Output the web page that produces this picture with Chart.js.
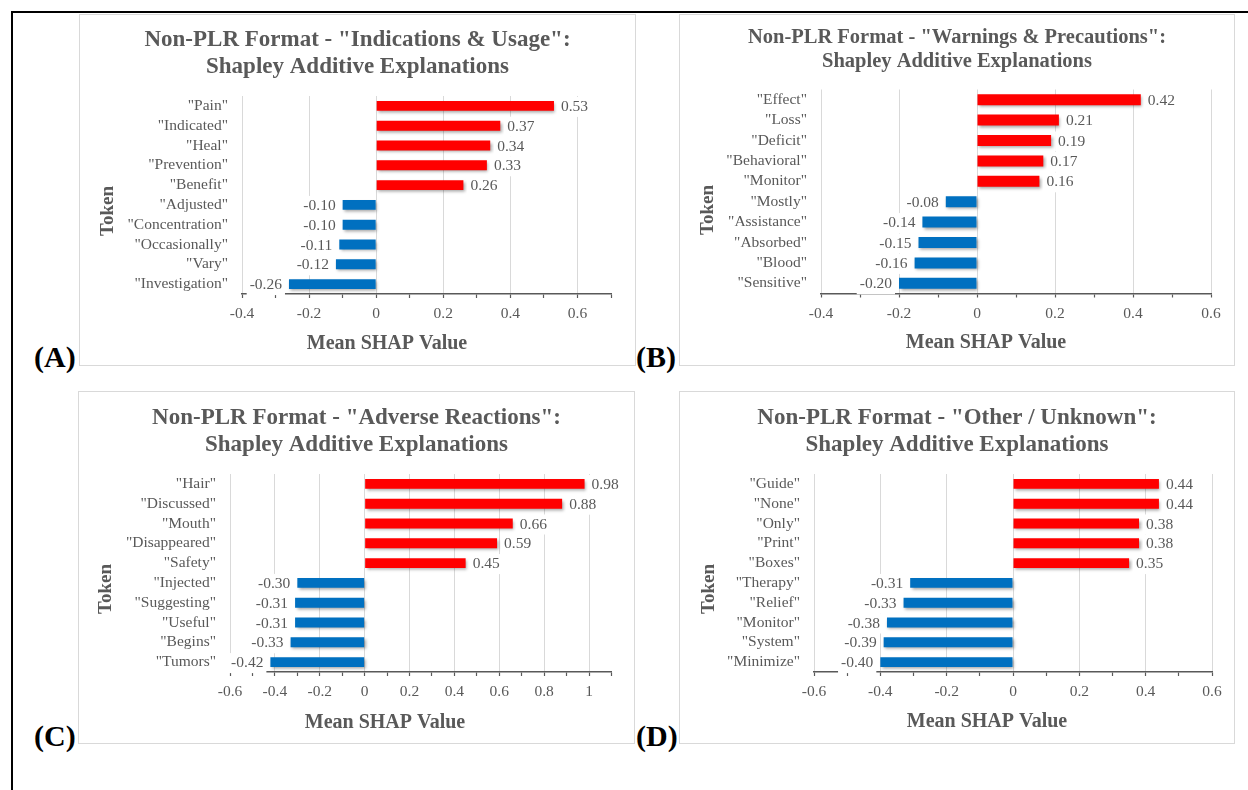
<!DOCTYPE html>
<html>
<head>
<meta charset="utf-8">
<title>Non-PLR Format - Shapley Additive Explanations</title>
<script src="https://cdn.jsdelivr.net/npm/chart.js@4.4.1/dist/chart.umd.min.js"></script>
<style>
  html, body { margin: 0; padding: 0; background: #fff; }
  body { width: 1248px; height: 790px; position: relative; overflow: hidden; font-family: 'Liberation Serif', 'Times New Roman', serif; }
  .frame { position: absolute; left: 11px; top: 11px; width: 1300px; height: 900px; border-left: 2.5px solid #000; border-top: 2.5px solid #000; }
  .panel { position: absolute; box-sizing: border-box; border: 1px solid #d9d9d9; background: #fff; }
  .chartbox { position: absolute; }
  .tag { position: absolute; font-weight: bold; font-size: 30px; line-height: 30px; color: #000; }
</style>
</head>
<body>
<div class="frame"></div>

<div class="panel" style="left:79px;top:14px;width:557px;height:352px"></div>
<div class="panel" style="left:679px;top:14px;width:556px;height:352px"></div>
<div class="panel" style="left:78px;top:391px;width:557px;height:353px"></div>
<div class="panel" style="left:679px;top:391px;width:556px;height:353px"></div>

<div class="chartbox" style="left:79px;top:14px;width:557px;height:352px"><canvas id="chartA"></canvas></div>
<div class="chartbox" style="left:679px;top:14px;width:556px;height:352px"><canvas id="chartB"></canvas></div>
<div class="chartbox" style="left:78px;top:391px;width:557px;height:353px"><canvas id="chartC"></canvas></div>
<div class="chartbox" style="left:679px;top:391px;width:556px;height:353px"><canvas id="chartD"></canvas></div>

<div class="tag" style="left:34px;top:342px">(A)</div>
<div class="tag" style="left:636px;top:342px">(B)</div>
<div class="tag" style="left:34px;top:721px">(C)</div>
<div class="tag" style="left:636px;top:721px">(D)</div>

<script>
'use strict';

// A - Indications & Usage
let tokensA = ['"Pain"', '"Indicated"', '"Heal"', '"Prevention"', '"Benefit"', '"Adjusted"', '"Concentration"', '"Occasionally"', '"Vary"', '"Investigation"'];
let valuesA = [0.53, 0.37, 0.34, 0.33, 0.26, -0.10, -0.10, -0.11, -0.12, -0.26];
let rangeA = [-0.4, 0.7];

// B - Warnings & Precautions
let tokensB = ['"Effect"', '"Loss"', '"Deficit"', '"Behavioral"', '"Monitor"', '"Mostly"', '"Assistance"', '"Absorbed"', '"Blood"', '"Sensitive"'];
let valuesB = [0.42, 0.21, 0.19, 0.17, 0.16, -0.08, -0.14, -0.15, -0.16, -0.20];
let rangeB = [-0.4, 0.6];

// C - Adverse Reactions
let tokensC = ['"Hair"', '"Discussed"', '"Mouth"', '"Disappeared"', '"Safety"', '"Injected"', '"Suggesting"', '"Useful"', '"Begins"', '"Tumors"'];
let valuesC = [0.98, 0.88, 0.66, 0.59, 0.45, -0.30, -0.31, -0.31, -0.33, -0.42];
let rangeC = [-0.6, 1.1];

// D - Other / Unknown
let tokensD = ['"Guide"', '"None"', '"Only"', '"Print"', '"Boxes"', '"Therapy"', '"Relief"', '"Monitor"', '"System"', '"Minimize"'];
let valuesD = [0.44, 0.44, 0.38, 0.38, 0.35, -0.31, -0.33, -0.38, -0.39, -0.40];
let rangeD = [-0.6, 0.6];

let subTitle = 'Shapley Additive Explanations';
let xTitle = 'Mean SHAP Value';
let yTitle = 'Token';

const GRAY = '#595959';
const FONT = 'Liberation Serif';

Chart.defaults.font.family = FONT;

function isMajor(v) {
  return Math.round(v * 10) % 2 === 0;
}

// titles and axis titles sit where Excel put them, not where Chart.js would
const panelText = {
  id: 'panelText',
  afterDraw(chart, args, opts) {
    const ctx = chart.ctx;
    ctx.save();
    ctx.fillStyle = GRAY;
    ctx.textAlign = 'center';
    ctx.textBaseline = 'alphabetic';
    ctx.font = 'bold ' + opts.titleSize + 'px "' + FONT + '"';
    opts.title.forEach((line, i) => ctx.fillText(line, chart.width / 2, opts.titleY[i]));
    ctx.font = 'bold 20px "' + FONT + '"';
    ctx.fillText(xTitle, opts.xTitlePos[0], opts.xTitlePos[1]);
    ctx.translate(opts.yTitlePos[0], opts.yTitlePos[1]);
    ctx.rotate(-Math.PI / 2);
    ctx.font = 'bold 19px "' + FONT + '"';
    ctx.fillText(yTitle, 0, 0);
    ctx.restore();
  }
};

// value labels with a white box behind them
const barLabels = {
  id: 'barLabels',
  afterDatasetsDraw(chart) {
    const ctx = chart.ctx;
    const meta = chart.getDatasetMeta(0);
    const values = chart.data.datasets[0].data;
    ctx.save();
    ctx.font = '15.5px "' + FONT + '"';
    ctx.textBaseline = 'middle';
    ctx.textAlign = 'left';
    meta.data.forEach((bar, i) => {
      let v = values[i];
      let text = v.toFixed(2);
      let w = ctx.measureText(text).width;
      let x = v >= 0 ? bar.x + 7 : bar.x - 7 - w;
      ctx.fillStyle = '#fff';
      ctx.fillRect(x - 3, bar.y - 9, w + 6, 20);
      ctx.fillStyle = GRAY;
      ctx.fillText(text, x, bar.y + 1);
    });
    ctx.restore();
  }
};

// soft drop shadow like the Excel bars
const barShadow = {
  id: 'barShadow',
  beforeDatasetDraw(chart) {
    const ctx = chart.ctx;
    ctx.save();
    ctx.shadowColor = 'rgba(0, 0, 0, 0.35)';
    ctx.shadowBlur = 3;
    ctx.shadowOffsetX = 1.5;
    ctx.shadowOffsetY = 2;
  },
  afterDatasetDraw(chart) {
    chart.ctx.restore();
  }
};

function makeChart(id, tokens, values, range, title, box) {
  let ctx = document.getElementById(id).getContext('2d');
  return new Chart(ctx, {
    type: 'bar',
    data: {
      labels: tokens,
      datasets: [{
        data: values,
        backgroundColor: values.map(v => v > 0 ? '#ff0000' : '#0070c0'),
        borderWidth: 0,
        barPercentage: box.bar,
        categoryPercentage: 1
      }]
    },
    plugins: [barShadow, barLabels, panelText],
    options: {
      indexAxis: 'y',
      responsive: true,
      maintainAspectRatio: false,
      animation: false,
      devicePixelRatio: 1,
      layout: {
        padding: { left: 0, top: box.top, right: box.w - box.right, bottom: box.h - box.bottom - 40 }
      },
      plugins: {
        legend: { display: false },
        title: { display: false },
        tooltip: { enabled: false },
        panelText: {
          title: title,
          titleSize: box.titleSize,
          titleY: box.titleY,
          xTitlePos: box.xTitlePos,
          yTitlePos: box.yTitlePos
        }
      },
      scales: {
        x: {
          min: range[0],
          max: range[1],
          afterFit(scale) { scale.height = 40; },
          border: { display: true, color: GRAY, width: 1.5 },
          grid: {
            color: (c) => (c.tick && isMajor(c.tick.value)) ? '#d9d9d9' : 'rgba(0,0,0,0)',
            lineWidth: 1,
            tickColor: GRAY,
            tickLength: 4,
            tickWidth: 1.2,
            drawTicks: true
          },
          ticks: {
            stepSize: 0.1,
            autoSkip: false,
            maxRotation: 0,
            padding: 7,
            color: GRAY,
            font: { family: FONT, size: 15.5 },
            callback: (v) => isMajor(v) ? String(Math.round(v * 10) / 10) : ''
          }
        },
        y: {
          afterFit(scale) { scale.width = box.left; },
          grid: { display: false, drawTicks: false },
          border: { display: false },
          ticks: {
            autoSkip: false,
            padding: 14,
            color: GRAY,
            font: { family: FONT, size: 15.5 }
          }
        }
      }
    }
  });
}

makeChart('chartA', tokensA, valuesA, rangeA,
  ['Non-PLR Format - "Indications & Usage":', subTitle],
  { w: 557, h: 352, left: 163, right: 532, top: 82, bottom: 280, bar: 0.5,
    titleSize: 23, titleY: [32, 59], xTitlePos: [308, 335], yTitlePos: [34, 197] });

makeChart('chartB', tokensB, valuesB, rangeB,
  ['Non-PLR Format - "Warnings & Precautions":', subTitle],
  { w: 556, h: 352, left: 142, right: 532, top: 75.5, bottom: 279.5, bar: 0.54,
    titleSize: 20.5, titleY: [29, 53], xTitlePos: [307, 334], yTitlePos: [34, 196] });

makeChart('chartC', tokensC, valuesC, rangeC,
  ['Non-PLR Format - "Adverse Reactions":', subTitle],
  { w: 557, h: 353, left: 152, right: 533.5, top: 83, bottom: 281, bar: 0.5,
    titleSize: 23, titleY: [33, 60], xTitlePos: [307, 337], yTitlePos: [33, 198] });

makeChart('chartD', tokensD, valuesD, rangeD,
  ['Non-PLR Format - "Other / Unknown":', subTitle],
  { w: 556, h: 353, left: 135, right: 533, top: 83, bottom: 281, bar: 0.5,
    titleSize: 23, titleY: [33, 60], xTitlePos: [308, 336], yTitlePos: [35, 198] });
</script>
</body>
</html>
